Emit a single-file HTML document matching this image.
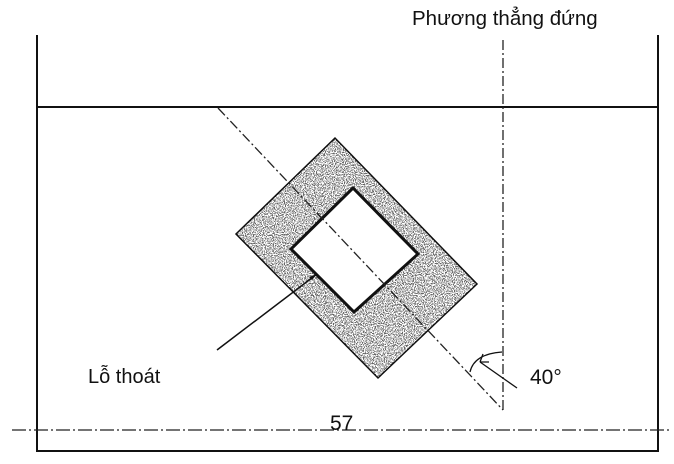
<!DOCTYPE html>
<html><head><meta charset="utf-8"><style>
html,body{margin:0;padding:0;background:#fff;}
svg{display:block;}
text{font-family:"Liberation Sans",sans-serif;fill:#111;}
</style></head><body>
<svg width="674" height="464" viewBox="0 0 674 464" xmlns="http://www.w3.org/2000/svg">
<defs>
<filter id="sp" x="0" y="0" width="1" height="1">
<feTurbulence type="fractalNoise" baseFrequency="0.9" numOctaves="2" seed="3" result="n"/>
<feColorMatrix in="n" type="matrix" values="0 0 0 0 0  0 0 0 0 0  0 0 0 0 0  0 0 0 -12 6.2" result="d"/>
<feComposite in="d" in2="SourceGraphic" operator="in"/>
</filter>
</defs>
<text x="412" y="25" font-size="20.5">Phương thẳng đứng</text>
<path d="M37 35 V451 H658 V35" fill="none" stroke="#111" stroke-width="2"/>
<line x1="37" y1="107" x2="658" y2="107" stroke="#111" stroke-width="2"/>
<line x1="12" y1="430" x2="670" y2="430" stroke="#222" stroke-width="1.3" stroke-dasharray="14 3 2 3"/>
<text x="330" y="430" font-size="21">57</text>
<line x1="503" y1="40" x2="503" y2="410" stroke="#222" stroke-width="1.3" stroke-dasharray="10 3 2 3"/>
<polygon points="335,138 236,234 378,378 477,284" fill="#fff" stroke="#111" stroke-width="1.5"/>
<polygon points="335,138 236,234 378,378 477,284" fill="#000" filter="url(#sp)" opacity="0.6"/>
<polygon points="353,188 291,249 354,312 418,254" fill="#fff" stroke="#111" stroke-width="3"/>
<line x1="218" y1="108" x2="503" y2="410" stroke="#222" stroke-width="1.3" stroke-dasharray="10 3 2 3"/>
<line x1="217" y1="350" x2="317" y2="274" stroke="#111" stroke-width="1.5"/>
<path d="M317 274 l-8 3 l3 3z" fill="#111"/>
<text x="88" y="383" font-size="20">Lỗ thoát</text>
<path d="M470 372 Q474 354 502 352" fill="none" stroke="#111" stroke-width="1.3"/>
<path d="M480 362 L517 388" stroke="#111" stroke-width="1.3"/>
<path d="M480 362 l3 -8 M480 362 l9 0" stroke="#111" stroke-width="1.3" fill="none"/>
<text x="530" y="384" font-size="21">40°</text>
</svg>
</body></html>
